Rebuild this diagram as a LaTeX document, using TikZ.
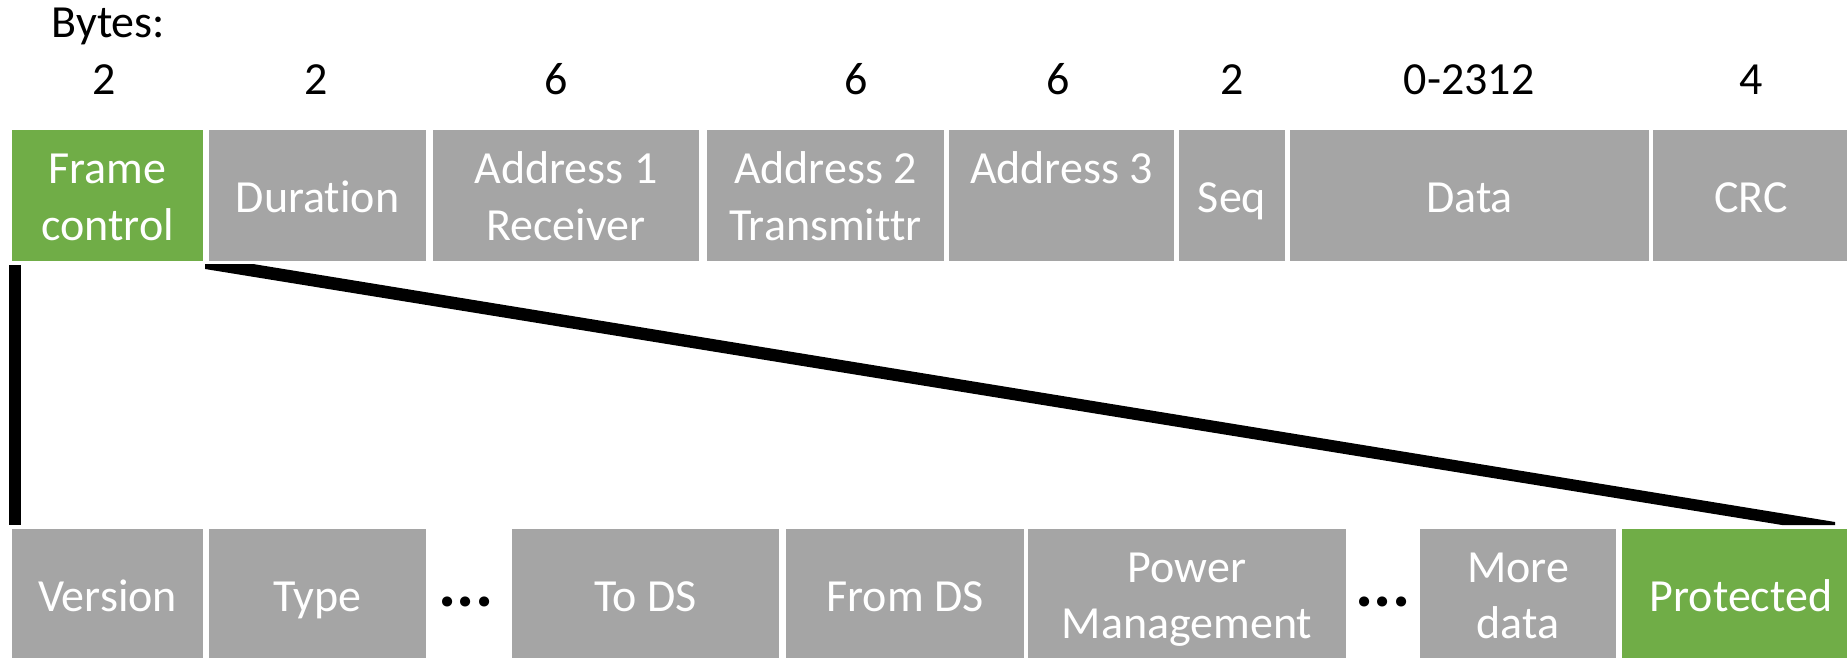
\documentclass[tikz,border=0pt]{standalone}
\usepackage{fontspec}
\setmainfont{Carlito}[Ligatures=NoCommon]
\usetikzlibrary{fit}
\definecolor{boxgray}{HTML}{A5A5A5}
\definecolor{boxgreen}{HTML}{70AD47}
\tikzset{
  field/.style={fill=boxgray, inner sep=0pt, draw=none},
  keyfield/.style={field, fill=boxgreen},
  lbl/.style={anchor=base, inner sep=0pt, text=white, font=\fontsize{23}{29}\selectfont},
  num/.style={anchor=base, inner sep=0pt, font=\fontsize{23}{29}\selectfont},
  ellip/.style={anchor=base, inner sep=0pt, font=\bfseries\fontsize{34}{40}\selectfont},
  zoomline/.style={fill=black, draw=none}
}
\begin{document}
\begin{tikzpicture}[x=0.5pt,y=-0.5pt]
\useasboundingbox (0,0) rectangle (1847,658);
% header
\node[num, anchor=base west] (bytes) at (51,38) {Bytes:};
\node[num] (n1) at (104,95) {2};
\node[num] (n2) at (316,95) {2};
\node[num] (n3) at (556,95) {6};
\node[num] (n4) at (856,95) {6};
\node[num] (n5) at (1058,95) {6};
\node[num] (n6) at (1232,95) {2};
\node[num] (n7) at (1469,95) {0-2312};
\node[num] (n8) at (1751,95) {4};
% top row boxes
\node[keyfield, fit={(12,130) (203,261)}] (fc) {};
\node[field, fit={(209,130) (426,261)}] (dur) {};
\node[field, fit={(433,130) (699,261)}] (a1) {};
\node[field, fit={(707,130) (944,261)}] (a2) {};
\node[field, fit={(949,130) (1174,261)}] (a3) {};
\node[field, fit={(1179,130) (1285,261)}] (seq) {};
\node[field, fit={(1290,130) (1649,261)}] (data) {};
\node[field, fit={(1653,130) (1849,261)}] (crc) {};
% top row labels
\node[lbl] (fc1) at (107.5,184) {Frame};
\node[lbl] (fc2) at (107.5,240) {control};
\node[lbl] (durl) at (317.5,213) {Duration};
\node[lbl] (a1l1) at (566,184) {Address 1};
\node[lbl] (a1l2) at (566,240) {Receiver};
\node[lbl] (a2l1) at (825.5,184) {Address 2};
\node[lbl] (a2l2) at (825.5,240) {Transmittr};
\node[lbl] (a3l) at (1061.5,184) {Address 3};
\node[lbl] (seql) at (1232,213) {Seq};
\node[lbl] (datal) at (1469.5,213) {Data};
\node[lbl] (crcl) at (1751,213) {CRC};
% bottom row boxes
\node[field, fit={(12,529) (203,660)}] (ver) {};
\node[field, fit={(209,529) (426,660)}] (type) {};
\node[field, fit={(512,529) (779,660)}] (tods) {};
\node[field, fit={(786,529) (1024,660)}] (fromds) {};
\node[field, fit={(1028,529) (1346,660)}] (pm) {};
\node[field, fit={(1420,529) (1616,660)}] (more) {};
\node[keyfield, fit={(1622,529) (1862,660)}] (prot) {};
% bottom row labels
\node[lbl] (verl) at (107.5,611) {Version};
\node[lbl] (typel) at (317.5,611) {Type};
\node[ellip] (dots1) at (466,606) {...};
\node[lbl] (todsl) at (645.5,611) {To DS};
\node[lbl] (fromdsl) at (905,611) {From DS};
\node[lbl] (pml1) at (1187,582) {Power};
\node[lbl] (pml2) at (1187,638) {Management};
\node[ellip] (dots2) at (1383,606) {...};
\node[lbl] (morel1) at (1518,582) {More};
\node[lbl] (morel2) at (1518,638) {data};
\node[lbl] (protl) at (1741,611) {Protected};
% zoom lines
\fill[zoomline] (9,265) rectangle (21,525);
\fill[zoomline] (205,264) -- (253,264) -- (1835,522) -- (1835,525) -- (1782,525) -- (205,269) -- cycle;
\end{tikzpicture}
\end{document}
